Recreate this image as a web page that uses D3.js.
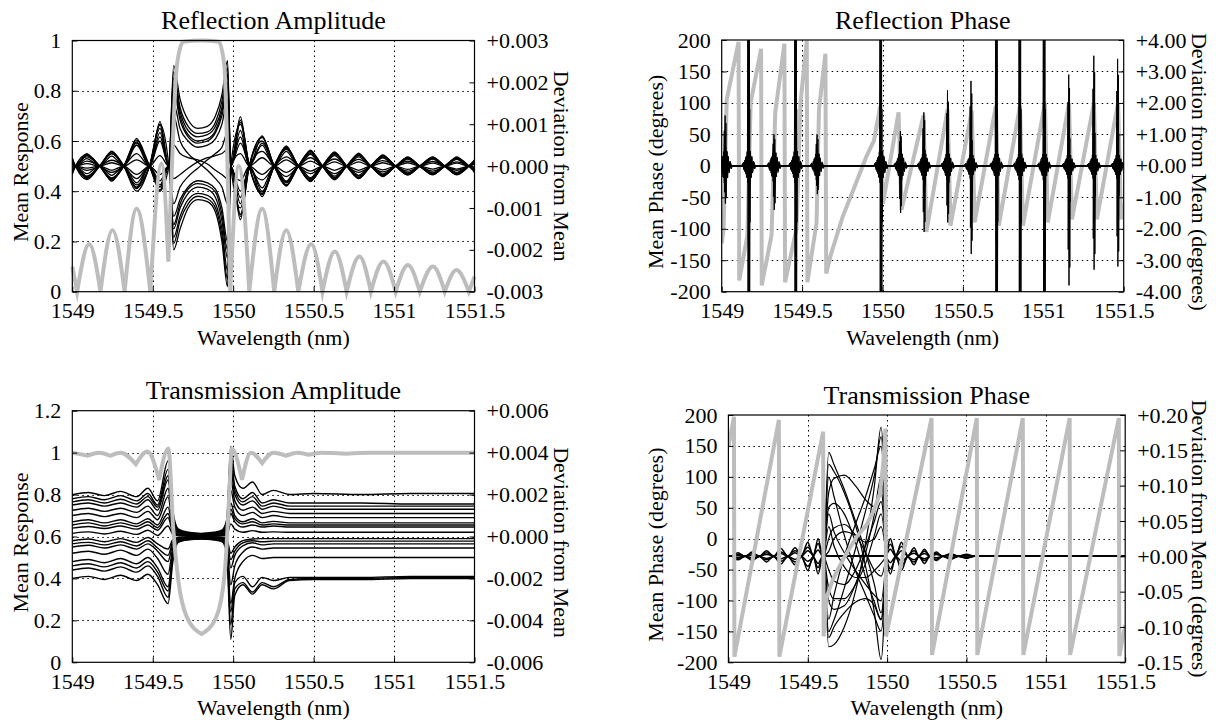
<!DOCTYPE html>
<html><head><meta charset="utf-8">
<script src="https://cdn.jsdelivr.net/npm/d3@7"></script>
<style>
body{margin:0;background:#fff;}
svg text{font-family:"Liberation Serif","Times New Roman",serif;fill:#000;}
</style></head><body>
<svg id="c" width="1216" height="725"></svg>
<script>
// ---------------- shared tick data ----------------
const X_TICKS = [1549, 1549.5, 1550, 1550.5, 1551, 1551.5];
const RA_LEFT_TICKS = [0, 0.2, 0.4, 0.6, 0.8, 1];
const RA_RIGHT_TICKS = [-0.003, -0.002, -0.001, 0, 0.001, 0.002, 0.003];
const RP_LEFT_TICKS = [-200, -150, -100, -50, 0, 50, 100, 150, 200];
const RP_RIGHT_TICKS = [-4, -3, -2, -1, 0, 1, 2, 3, 4];
const TA_LEFT_TICKS = [0, 0.2, 0.4, 0.6, 0.8, 1, 1.2];
const TA_RIGHT_TICKS = [-0.006, -0.004, -0.002, 0, 0.002, 0.004, 0.006];
const TP_LEFT_TICKS = [-200, -150, -100, -50, 0, 50, 100, 150, 200];
const TP_RIGHT_TICKS = [-0.15, -0.10, -0.05, 0, 0.05, 0.10, 0.15, 0.20];

// ---------------- Reflection amplitude ----------------
const RA_MEAN_X = [1549.000,1549.03,1549.105,1549.175,1549.25,1549.325,1549.40,1549.485,1549.555,1549.597,1549.625,1549.65,1549.69,1549.80,1549.91,1549.945,1549.965,1549.982,1550.035,1550.10,1550.18,1550.255,1550.33,1550.405,1550.485,1550.555,1550.632,1550.705,1550.785,1550.856,1550.934,1551.01,1551.086,1551.16,1551.242,1551.315,1551.388,1551.465,1551.5];
const RA_MEAN_Y = [0.10,0.0,0.19,0.0,0.245,0.0,0.33,0.0,0.51,0.12,0.6,0.9,0.995,1.0,0.995,0.9,0.5,0.0,0.50,0.0,0.33,0.0,0.245,0.0,0.19,0.0,0.16,0.0,0.14,0.0,0.12,0.0,0.106,0.0,0.10,0.0,0.086,0.0,0.06];
// deviation traces (units of 1e-3)
const RA_DEV_X = [1549.00,1549.02,1549.09,1549.17,1549.245,1549.32,1549.40,1549.48,1549.545,1549.60,1549.63,1549.67,1549.72,1549.78,1549.84,1549.89,1549.93,1549.965,1549.985,1550.045,1550.10,1550.18,1550.255,1550.33,1550.405,1550.48,1550.555,1550.63,1550.705,1550.78,1550.855,1550.93,1551.01,1551.085,1551.16,1551.24,1551.315,1551.39,1551.465,1551.5];
const RA_DEV_A = [0.2,0,0.3,0,0.36,0,0.66,0,1.06,0,2.4,1.6,1.1,0.9,0.95,1.2,1.7,2.52,0,1.18,0,0.72,0,0.48,0,0.38,0,0.34,0,0.31,0,0.27,0,0.22,0,0.22,0,0.22,0,0.15];
const RA_DEV_B = [-0.2,0,-0.3,0,-0.36,0,-0.54,0,-0.61,0,-2.0,-1.5,-1.0,-0.8,-0.85,-1.1,-1.8,-2.88,0,-1.28,0,-0.73,0,-0.48,0,-0.37,0,-0.33,0,-0.3,0,-0.25,0,-0.21,0,-0.21,0,-0.21,0,-0.15];
const RA_DEV_C = [0.15,0,-0.25,0,0.3,0,-0.45,0,0.9,0,2.1,1.3,0.85,0.7,0.75,0.95,1.4,2.2,0,-1.0,0,0.6,0,-0.4,0,0.32,0,-0.28,0,0.26,0,-0.22,0,0.19,0,-0.19,0,0.18,0,-0.12];
const RA_DEV_D = [-0.12,0,0.22,0,-0.28,0,0.55,0,-0.5,0,-1.7,-1.2,-0.8,-0.65,-0.7,-0.9,-1.5,-2.5,0,1.0,0,-0.62,0,0.42,0,-0.33,0,0.3,0,-0.27,0,0.23,0,-0.2,0,0.2,0,-0.19,0,0.12];
const RA_DEV_E = [0.1,0,0.18,0,0.24,0,0.5,0,0.8,0,1.8,1.1,0.7,0.55,0.6,0.8,1.2,1.9,0,0.85,0,0.5,0,0.35,0,0.28,0,0.25,0,0.22,0,0.2,0,0.17,0,0.17,0,0.16,0,0.1];
const RA_DEV_F = [-0.1,0,-0.18,0,-0.22,0,-0.4,0,-0.5,0,-1.5,-1.0,-0.65,-0.5,-0.55,-0.75,-1.3,-2.2,0,-0.9,0,-0.52,0,-0.36,0,-0.28,0,-0.24,0,-0.22,0,-0.19,0,-0.16,0,-0.16,0,-0.15,0,-0.1];
const RA_DEV_G = [0.05,0,0.12,0,-0.15,0,0.3,0,0.6,0,1.2,0.6,0.3,0.1,-0.1,-0.3,-0.5,-0.9,0,-0.6,0,0.35,0,-0.25,0,0.2,0,-0.18,0,0.16,0,-0.14,0,0.12,0,-0.12,0,0.1,0,-0.06];
const RA_DEV_H = [-0.06,0,-0.1,0,0.14,0,-0.3,0,-0.35,0,-0.9,-0.5,-0.25,-0.05,0.15,0.3,0.45,0.8,0,0.55,0,-0.33,0,0.22,0,-0.18,0,0.17,0,-0.15,0,0.13,0,-0.12,0,0.11,0,-0.1,0,0.06];
const RA_DEV_I = [0.18,0,-0.32,0,0.34,0,-0.6,0,0.98,0,2.25,1.4,0.95,0.78,0.82,1.05,1.55,2.35,0,1.1,0,-0.68,0,0.45,0,-0.36,0,0.32,0,-0.29,0,0.25,0,-0.21,0,0.21,0,-0.2,0,0.14];
const RA_DEV_J = [-0.18,0,0.28,0,-0.33,0,0.5,0,-0.58,0,-1.85,-1.3,-0.9,-0.72,-0.78,-1.0,-1.65,-2.7,0,-1.2,0,0.7,0,-0.46,0,0.35,0,-0.31,0,0.28,0,-0.24,0,0.2,0,-0.2,0,0.2,0,-0.14];
const RA_DEV_K = [0.03,0,0.06,0,0.08,0,0.15,0,0.25,0,0.5,0.3,0.2,0.15,0.05,-0.1,-0.2,-0.3,0,0.3,0,0.2,0,0.15,0,0.12,0,0.1,0,0.1,0,0.08,0,0.08,0,0.07,0,0.07,0,0.05];
const RA_DEV_L = [-0.03,0,-0.05,0,-0.1,0,-0.2,0,-0.2,0,-0.3,-0.2,-0.05,0.1,0.2,0.25,0.3,0.4,0,-0.35,0,-0.2,0,-0.15,0,-0.12,0,-0.1,0,-0.1,0,-0.09,0,-0.08,0,-0.07,0,-0.07,0,-0.05];
const RA_DEV_M = [0.12,0,0.25,0,-0.3,0,0.58,0,0.7,0,1.5,0.9,0.6,0.45,0.5,0.65,1.0,1.6,0,0.7,0,0.55,0,-0.38,0,0.3,0,0.28,0,-0.24,0,0.21,0,0.18,0,-0.18,0,0.17,0,0.1];
const RA_DEV_N = [-0.14,0,-0.24,0,0.3,0,-0.5,0,-0.45,0,-1.2,-0.8,-0.5,-0.35,-0.4,-0.55,-1.0,-1.8,0,-0.75,0,-0.6,0,0.4,0,-0.3,0,-0.27,0,0.25,0,-0.21,0,-0.18,0,0.18,0,-0.17,0,-0.1];
const RA_DEV_O = [0.17,0,0.27,0,-0.33,0,0.62,0,-0.58,0,1.95,1.2,0.75,0.6,0.65,0.85,1.3,2.0,0,1.05,0,-0.66,0,0.44,0,-0.35,0,0.31,0,-0.28,0,0.24,0,-0.2,0,0.2,0,-0.2,0,0.13];
const RA_DEV_P = [-0.16,0,-0.28,0,0.34,0,-0.52,0,1.0,0,-1.4,-0.9,-0.55,-0.42,-0.47,-0.62,-1.15,-2.0,0,-1.15,0,0.68,0,-0.45,0,0.36,0,-0.31,0,0.28,0,-0.23,0,0.2,0,-0.2,0,0.19,0,-0.12];

// ---------------- Reflection phase ----------------
const RP_MEAN_X = [1549.000,1549.012,1549.031,1549.105,1549.109,1549.16,1549.18,1549.245,1549.249,1549.31,1549.333,1549.390,1549.394,1549.465,1549.49,1549.529,1549.533,1549.59,1549.605,1549.645,1549.65,1549.68,1549.752,1549.825,1549.90,1549.947,1549.975,1549.985,1550.003,1550.10,1550.118,1550.255,1550.273,1550.405,1550.423,1550.555,1550.573,1550.705,1550.723,1550.855,1550.873,1551.01,1551.028,1551.16,1551.178,1551.315,1551.333,1551.465,1551.483,1551.5];
const RP_MEAN_Y = [-123,-100,105,197,-182,-110,100,186,-190,-110,85,194,-185,-100,100,199,-185,-90,90,178,-171,-140,-81,-34,15,40,80,95,-60,85,-70,80,-105,90,-95,88,-90,95,-95,95,-95,100,-90,100,-85,100,-85,100,-85,-60];
// deviation resonances (degrees)
const RP_SPIKE_X = [1549.022,1549.168,1549.326,1549.46,1549.594,1549.99,1550.112,1550.258,1550.405,1550.551,1550.709,1550.855,1551.006,1551.159,1551.315,1551.463];
const RP_SPIKE_UP = [1.6,6,1.0,6,1.0,6,1.1,1.7,2.4,2.7,6,6,6,2.9,3.5,3.4];
const RP_SPIKE_DOWN = [-1.2,-6,-1.4,-6,-0.9,-6,-1.5,-2.1,-1.8,-2.8,-6,-6,-6,-3.8,-3.3,-3.2];
const RP_BURST = [0.6,0.6,0.55,0.6,0.5,0.6,0.5,0.5,0.5,0.45,0.5,0.5,0.5,0.45,0.45,0.45];
const RP_PROFILE_DX = [-0.04,-0.032,-0.025,-0.019,-0.014,-0.01,-0.006,-0.003,-0.0008,0.0008,0.003,0.006,0.01,0.014,0.019,0.025,0.032,0.04];
const RP_PROFILE_BURST = [0,0.2,-0.3,0.45,-0.6,0.75,-0.9,1,0,0,1,-0.9,0.75,-0.6,0.45,-0.3,0.2,0];
const RP_PROFILE_UP = [0,0,0,0,0,0,0,0,1,0,0,0,0,0,0,0,0,0];
const RP_PROFILE_DOWN = [0,0,0,0,0,0,0,0,0,1,0,0,0,0,0,0,0,0];
const RP_TRACE_SPIKE = [1,0.85,0.7,0.55,0.4,0.3,0.2,0.1];
const RP_TRACE_BURST = [1,-0.85,0.7,-0.55,0.4,-0.3,0.2,-0.1];
const RP_TRACE_SHIFT = [0,0.005,-0.005,0.0025,-0.0025,0.007,-0.0015,0.0015];

// ---------------- Transmission amplitude ----------------
const TA_MEAN_X = [1549.0,1549.095,1549.166,1549.236,1549.30,1549.395,1549.467,1549.54,1549.597,1549.628,1549.659,1549.711,1549.804,1549.897,1549.949,1549.98,1549.99,1550.055,1550.11,1550.18,1550.25,1550.33,1550.4,1550.47,1550.55,1550.7,1550.85,1551.0,1551.5];
const TA_MEAN_Y = [1.0,0.985,1.0,0.985,1.0,0.945,1.005,0.87,1.02,0.63,0.39,0.217,0.135,0.22,0.44,0.87,1.02,0.87,1.0,0.95,1.0,0.985,1.0,0.99,1.0,0.995,1.0,1.0,1.0];
// deviation traces (units of 1e-3)
const TA_DEV_X = [1549.0,1549.1,1549.2,1549.3,1549.4,1549.47,1549.53,1549.595,1549.625,1549.66,1549.72,1549.8,1549.88,1549.93,1549.96,1549.985,1550.01,1550.06,1550.12,1550.18,1550.25,1550.35,1550.5,1550.8,1551.1,1551.5];
const TA_DEV_01 = [2.0,2.1,1.95,2.15,1.9,2.3,1.7,3.6,1.2,0.35,0.2,0.15,0.2,0.3,0.8,4.3,2.9,2.3,2.6,2.0,2.2,2.0,2.05,2.0,2.05,2.05];
const TA_DEV_02 = [1.8,1.9,1.75,1.95,1.7,2.05,1.5,3.2,1.0,0.3,0.18,0.13,0.18,0.26,0.7,3.8,2.4,1.8,2.1,1.6,1.75,1.6,1.6,1.6,1.55,1.55];
const TA_DEV_03 = [1.5,1.6,1.45,1.6,1.4,1.75,1.25,2.7,0.8,0.25,0.15,0.11,0.15,0.22,0.55,3.2,2.0,1.5,1.7,1.3,1.45,1.3,1.3,1.3,1.3,1.3];
const TA_DEV_04 = [1.25,1.35,1.2,1.35,1.15,1.45,1.0,2.3,0.65,0.2,0.12,0.09,0.12,0.18,0.45,2.7,1.7,1.25,1.4,1.1,1.2,1.1,1.1,1.1,1.1,1.1];
const TA_DEV_05 = [1.0,1.1,0.95,1.1,0.9,1.2,0.8,1.9,0.5,0.16,0.1,0.07,0.1,0.14,0.35,2.2,1.4,1.0,1.15,0.9,1.0,0.9,0.9,0.9,0.9,0.9];
const TA_DEV_06 = [0.7,0.8,0.65,0.8,0.6,0.85,0.55,1.4,0.35,0.11,0.07,0.05,0.07,0.1,0.25,1.6,1.0,0.7,0.85,0.65,0.72,0.65,0.65,0.65,0.65,0.65];
const TA_DEV_07 = [0.4,0.48,0.38,0.5,0.35,0.55,0.3,0.9,0.2,0.07,0.04,0.03,0.04,0.06,0.15,1.1,0.7,0.45,0.55,0.45,0.5,0.45,0.45,0.45,0.45,0.45];
const TA_DEV_08 = [0.15,0.22,0.12,0.25,0.1,0.3,0.05,0.5,0.1,0.03,0.02,0.01,0.02,0.03,0.05,0.6,0.35,0.2,0.28,0.2,0.22,0.2,0.2,0.2,0.2,0.2];
const TA_DEV_09 = [-0.2,-0.12,-0.25,-0.1,-0.28,-0.05,-0.35,-0.6,-0.15,-0.04,-0.02,-0.02,-0.02,-0.04,-0.1,-0.8,-0.5,-0.2,-0.12,-0.1,-0.1,-0.1,-0.1,-0.1,-0.1,-0.1];
const TA_DEV_10 = [-0.5,-0.42,-0.55,-0.4,-0.6,-0.35,-0.7,-1.2,-0.35,-0.09,-0.05,-0.04,-0.05,-0.08,-0.2,-1.5,-0.9,-0.45,-0.3,-0.4,-0.35,-0.35,-0.35,-0.35,-0.35,-0.35];
const TA_DEV_11 = [-0.8,-0.7,-0.85,-0.65,-0.9,-0.6,-1.05,-1.8,-0.55,-0.13,-0.08,-0.06,-0.08,-0.12,-0.35,-2.3,-1.4,-0.75,-0.5,-0.6,-0.55,-0.55,-0.55,-0.55,-0.55,-0.55];
const TA_DEV_12 = [-1.2,-1.1,-1.25,-1.05,-1.3,-1.0,-1.5,-2.4,-0.8,-0.18,-0.11,-0.08,-0.11,-0.16,-0.5,-3.2,-2.0,-1.2,-0.9,-1.05,-1.0,-1.0,-1.0,-1.0,-1.0,-1.0];
const TA_DEV_13 = [-1.6,-1.5,-1.65,-1.45,-1.7,-1.4,-1.9,-2.9,-1.0,-0.23,-0.14,-0.1,-0.14,-0.2,-0.7,-4.2,-2.5,-2.2,-2.65,-2.2,-2.4,-2.05,-2.0,-2.0,-1.95,-1.95];
const TA_DEV_14 = [-2.0,-1.9,-2.05,-1.85,-2.1,-1.8,-2.3,-3.2,-1.2,-0.27,-0.16,-0.12,-0.16,-0.24,-0.8,-4.9,-2.8,-2.3,-2.75,-2.3,-2.5,-2.1,-2.05,-2.05,-2.0,-2.0];
const TA_DEV_15 = [1.65,1.75,1.6,1.78,1.55,1.9,1.4,2.9,0.9,0.28,0.17,0.12,0.17,0.24,0.6,3.5,2.2,1.65,1.9,1.45,1.6,1.45,1.45,1.45,1.45,1.45];
const TA_DEV_16 = [0.55,0.65,0.5,0.65,0.48,0.7,0.42,1.1,0.28,0.09,0.06,0.04,0.06,0.08,0.2,1.3,0.85,0.6,0.7,0.55,0.6,0.55,0.55,0.55,0.55,0.55];
const TA_DEV_17 = [-0.35,-0.28,-0.4,-0.25,-0.45,-0.2,-0.55,-0.9,-0.25,-0.06,-0.04,-0.03,-0.04,-0.05,-0.15,-1.1,-0.7,-0.3,-0.2,-0.25,-0.22,-0.22,-0.22,-0.22,-0.22,-0.22];
const TA_DEV_18 = [-1.4,-1.3,-1.45,-1.25,-1.5,-1.2,-1.7,-2.6,-0.9,-0.25,-0.15,-0.11,-0.15,-0.22,-0.6,-3.6,-2.2,-1.9,-2.4,-1.95,-2.1,-1.95,-1.95,-1.95,-1.9,-1.9];

// ---------------- Transmission phase ----------------
const TP_MEAN_X = [1549.0,1549.035,1549.038,1549.318,1549.321,1549.597,1549.600,1549.62,1549.66,1549.73,1549.808,1549.87,1549.917,1549.955,1549.975,1549.99,1549.993,1550.28,1550.283,1550.565,1550.568,1550.855,1550.858,1551.15,1551.153,1551.46,1551.463,1551.5];
const TP_MEAN_Y = [149,197,-191,192,-191,173,-158,-94,-65,-30,3,22,46,73,120,178,-158,195,-188,195,-188,195,-188,195,-188,195,-190,-140];
// deviation bursts outside the band (units of 1e-2)
const TP_BURST_X = [1549.0,1549.02,1549.06,1549.105,1549.15,1549.195,1549.24,1549.285,1549.33,1549.375,1549.42,1549.46,1549.5,1549.535,1549.565,1549.595,1549.985,1550.02,1550.055,1550.09,1550.13,1550.17,1550.2,1550.235,1550.27,1550.31,1550.35,1550.4,1550.45,1550.5,1550.55,1551.0,1551.5];
const TP_BURST_1 = [0,0,0.5,0,0.6,0,0.8,0,1.1,0,1.2,0,2.0,0,2.5,0,0,2.5,0,2.0,0,1.2,0,1.0,0,0.6,0,0.4,0,0.3,0,0,0];
const TP_BURST_2 = [0,0,-0.5,0,-0.6,0,-0.8,0,-1.1,0,-1.2,0,-2.0,0,-2.5,0,0,-2.5,0,-2.0,0,-1.2,0,-1.0,0,-0.6,0,-0.4,0,-0.3,0,0,0];
const TP_BURST_3 = [0,0,0.3,0,-0.4,0,0.5,0,-0.7,0,0.8,0,-1.4,0,1.8,0,0,-1.8,0,1.4,0,-0.8,0,0.7,0,-0.4,0,0.3,0,-0.2,0,0,0];
const TP_BURST_4 = [0,0,-0.3,0,0.35,0,-0.5,0,0.6,0,-0.8,0,1.3,0,-1.6,0,0,1.7,0,-1.3,0,0.8,0,-0.6,0,0.4,0,-0.25,0,0.2,0,0,0];
const TP_BURST_5 = [0,0,0.15,0,0.2,0,-0.3,0,0.4,0,0.5,0,0.8,0,-1.0,0,0,1.0,0,0.8,0,-0.5,0,0.4,0,0.25,0,-0.15,0,0.1,0,0,0];
const TP_BURST_6 = [0,0,-0.15,0,-0.2,0,0.25,0,-0.35,0,-0.45,0,-0.7,0,0.9,0,0,-0.9,0,-0.7,0,0.45,0,-0.35,0,-0.2,0,0.15,0,-0.1,0,0,0];
// deviation traces inside the band (units of 1e-2)
const TP_BAND_X = [1549.605,1549.632,1549.665,1549.73,1549.8,1549.865,1549.92,1549.962,1549.995];
const TP_BAND_01 = [0,14.7,13.0,9.5,5.0,0.5,-4.0,-8.0,0];
const TP_BAND_02 = [0,13.0,12.0,9.0,4.5,-1.5,-8.0,-14.6,0];
const TP_BAND_03 = [0,11.2,8.5,3.0,-2.0,-5.5,-8.5,-10.6,0];
const TP_BAND_04 = [0,6.9,7.5,6.0,2.0,-3.0,-6.5,-8.9,0];
const TP_BAND_05 = [0,6.0,3.5,0.5,-2.0,-4.0,-5.5,-6.3,0];
const TP_BAND_06 = [0,2.5,4.0,4.5,3.0,0.5,-2.0,-2.8,0];
const TP_BAND_07 = [0,-1.9,-3.5,-4.0,-2.0,1.5,5.0,7.75,0];
const TP_BAND_08 = [0,-6.3,-7.5,-7.0,-4.0,0.5,6.0,11.2,0];
const TP_BAND_09 = [0,-10.6,-9.0,-4.5,1.0,6.5,11.5,16.9,0];
const TP_BAND_10 = [0,-12.8,-12.5,-10.0,-5.0,2.0,10.0,18.3,0];
const TP_BAND_11 = [0,-8.9,-5.5,0.0,4.5,8.5,12.5,15.6,0];
const TP_BAND_12 = [0,-4.5,-6.0,-6.0,-4.0,-1.0,3.0,6.0,0];
const TP_BAND_13 = [0,4.2,1.5,-1.5,-3.0,-3.0,-2.0,-1.0,0];
const TP_BAND_14 = [0,0.7,2.5,3.5,3.0,2.0,2.5,4.2,0];
const TP_BAND_15 = [0,-11.5,-10.0,-8.0,-6.5,-6.0,-7.0,-9.0,0];
const TP_BAND_16 = [0,9.0,11.0,11.5,10.0,8.0,7.0,9.0,0];

// ---------------- drawing ----------------
const svg = d3.select("#c");
const GRAY = "#bdbdbd";
const FONT = "'Liberation Serif','Times New Roman',serif";
const plain = d => String(d);
const signed = n => d => (d < 0 ? "-" : "+") + Math.abs(d).toFixed(n);

function cuspPath(xs, ys, sx, sy) {
  const pts = xs.map((v, i) => [sx(v), sy(ys[i])]);
  const segs = []; let cur = [pts[0]];
  for (let i = 1; i < pts.length; i++) {
    cur.push(pts[i]);
    if (i < pts.length - 1 && ys[i] < ys[i - 1] && ys[i] < ys[i + 1]) { segs.push(cur); cur = [pts[i]]; }
  }
  if (cur.length > 1) segs.push(cur);
  const line = d3.line().curve(d3.curveMonotoneX);
  return segs.map((s, k) => { const d = line(s); return k === 0 ? d : d.replace(/^M[^A-Za-z]*/, ""); }).join("");
}

let clipN = 0;
function panel(cfg) {
  const g = svg.append("g");
  const x = d3.scaleLinear().domain([1549, 1551.5]).range([cfg.left, cfg.right]);
  const yL = d3.scaleLinear().domain([cfg.lTicks[0], cfg.lTicks[cfg.lTicks.length - 1]]).range([cfg.bottom, cfg.top]);
  const yR = d3.scaleLinear().domain([cfg.rTicks[0], cfg.rTicks[cfg.rTicks.length - 1]]).range([cfg.bottom, cfg.top]);
  const id = "clip" + (clipN++);
  g.append("clipPath").attr("id", id).append("rect")
    .attr("x", cfg.left).attr("y", cfg.top).attr("width", cfg.right - cfg.left).attr("height", cfg.bottom - cfg.top);
  const grid = g.append("g").attr("stroke", "#000").attr("stroke-width", 1).attr("stroke-dasharray", "1.5,3.5");
  grid.selectAll(".h").data(cfg.lTicks.slice(1, -1)).join("line")
    .attr("x1", cfg.left).attr("x2", cfg.right).attr("y1", d => Math.round(yL(d)) + 0.5).attr("y2", d => Math.round(yL(d)) + 0.5);
  grid.selectAll(".v").data(X_TICKS.slice(1, -1)).join("line")
    .attr("y1", cfg.top).attr("y2", cfg.bottom).attr("x1", d => Math.round(x(d)) + 0.5).attr("x2", d => Math.round(x(d)) + 0.5);
  cfg.draw(g, x, yL, yR, "url(#" + id + ")");
  g.append("rect").attr("x", cfg.left).attr("y", cfg.top).attr("width", cfg.right - cfg.left).attr("height", cfg.bottom - cfg.top)
    .attr("fill", "none").attr("stroke", "#000").attr("stroke-width", 1.2);
  const style = a => { a.select(".domain").remove(); a.attr("font-family", FONT).attr("font-size", 22); a.selectAll("text").attr("fill", "#000"); };
  g.append("g").attr("transform", `translate(${cfg.left},0)`)
    .call(d3.axisLeft(yL).tickValues(cfg.lTicks).tickFormat(cfg.lFmt).tickSize(-5).tickPadding(11)).call(style);
  g.append("g").attr("transform", `translate(${cfg.right},0)`)
    .call(d3.axisRight(yR).tickValues(cfg.rTicks).tickFormat(cfg.rFmt).tickSize(-5).tickPadding(12)).call(style);
  g.append("g").attr("transform", `translate(0,${cfg.bottom})`)
    .call(d3.axisBottom(x).tickValues(X_TICKS).tickFormat(plain).tickSize(-5).tickPadding(11)).call(style);
  const cx = (cfg.left + cfg.right) / 2, cy = (cfg.top + cfg.bottom) / 2;
  g.append("text").attr("x", cx).attr("y", cfg.titleY).attr("text-anchor", "middle").attr("font-size", 26).text(cfg.title);
  g.append("text").attr("x", cx).attr("y", cfg.bottom + 53).attr("text-anchor", "middle").attr("font-size", 22).text("Wavelength (nm)");
  g.append("text").attr("transform", `translate(${cfg.lLabelX},${cy + 6}) rotate(-90)`).attr("dy", "0.35em")
    .attr("text-anchor", "middle").attr("font-size", 22).text(cfg.lLabel);
  g.append("text").attr("transform", `translate(${cfg.rLabelX},${cy + cfg.rLabelDy}) rotate(90)`).attr("dy", "0.35em")
    .attr("text-anchor", "middle").attr("font-size", 22).text(cfg.rLabel);
}

function blackLines(g, clip, xs, rows, sx, sy, curve, w) {
  const line = d3.line().curve(curve).x((d, i) => sx(xs[i])).y(d => sy(d));
  g.append("g").attr("clip-path", clip).selectAll("path").data(rows).join("path")
    .attr("d", line).attr("fill", "none").attr("stroke", "#000").attr("stroke-width", w || 1.1);
}

// Panel 1
panel({
  title: "Reflection Amplitude", titleY: 29, left: 72.3, right: 474.5, top: 40.5, bottom: 291.7,
  lTicks: RA_LEFT_TICKS, rTicks: RA_RIGHT_TICKS, lFmt: plain, rFmt: signed(3),
  lLabel: "Mean Response", rLabel: "Deviation from Mean", lLabelX: 20, rLabelX: 562, rLabelDy: 0,
  draw(g, x, yL, yR, clip) {
    const rows = [RA_DEV_A, RA_DEV_B, RA_DEV_C, RA_DEV_D, RA_DEV_E, RA_DEV_F, RA_DEV_G, RA_DEV_H, RA_DEV_I, RA_DEV_J,
      RA_DEV_K, RA_DEV_L, RA_DEV_M, RA_DEV_N, RA_DEV_O, RA_DEV_P];
    blackLines(g, clip, RA_DEV_X, rows, x, v => yR(v * 1e-3), d3.curveMonotoneX, 1.3);
    g.append("path").attr("d", cuspPath(RA_MEAN_X, RA_MEAN_Y, x, yL)).attr("fill", "none")
      .attr("stroke", GRAY).attr("stroke-width", 4).attr("stroke-linejoin", "miter").attr("stroke-miterlimit", 6);
  }
});

// Panel 2
panel({
  title: "Reflection Phase", titleY: 29, left: 721.7, right: 1123.7, top: 40, bottom: 291.7,
  lTicks: RP_LEFT_TICKS, rTicks: RP_RIGHT_TICKS, lFmt: plain, rFmt: signed(2),
  lLabel: "Mean Phase (degrees)", rLabel: "Deviation from Mean (degrees)", lLabelX: 655, rLabelX: 1200, rLabelDy: 6,
  draw(g, x, yL, yR, clip) {
    g.append("path").attr("clip-path", clip)
      .attr("d", d3.line().x((d, i) => x(RP_MEAN_X[i])).y(d => yL(d))(RP_MEAN_Y))
      .attr("fill", "none").attr("stroke", GRAY).attr("stroke-width", 4).attr("stroke-linejoin", "miter");
    const traces = RP_TRACE_SPIKE.map((s, k) => {
      const pts = [];
      RP_SPIKE_X.forEach((sx0, i) => {
        RP_PROFILE_DX.forEach((dx, j) => {
          const v = RP_TRACE_BURST[k] * RP_BURST[i] * RP_PROFILE_BURST[j]
            + s * (RP_SPIKE_UP[i] * RP_PROFILE_UP[j] + RP_SPIKE_DOWN[i] * RP_PROFILE_DOWN[j]);
          pts.push([sx0 + dx + RP_TRACE_SHIFT[k], v]);
        });
      });
      return pts;
    });
    g.append("g").attr("clip-path", clip).selectAll("path").data(traces).join("path")
      .attr("d", d3.line().x(d => x(d[0])).y(d => yR(d[1])))
      .attr("fill", "none").attr("stroke", "#000").attr("stroke-width", 1);
  }
});

// Panel 3
panel({
  title: "Transmission Amplitude", titleY: 399, left: 72.3, right: 474.5, top: 410.7, bottom: 662.3,
  lTicks: TA_LEFT_TICKS, rTicks: TA_RIGHT_TICKS, lFmt: plain, rFmt: signed(3),
  lLabel: "Mean Response", rLabel: "Deviation from Mean", lLabelX: 20, rLabelX: 562, rLabelDy: 6,
  draw(g, x, yL, yR, clip) {
    const rows = [TA_DEV_01, TA_DEV_02, TA_DEV_03, TA_DEV_04, TA_DEV_05, TA_DEV_06, TA_DEV_07, TA_DEV_08, TA_DEV_09,
      TA_DEV_10, TA_DEV_11, TA_DEV_12, TA_DEV_13, TA_DEV_14, TA_DEV_15, TA_DEV_16, TA_DEV_17, TA_DEV_18];
    blackLines(g, clip, TA_DEV_X, rows, x, v => yR(v * 1e-3), d3.curveMonotoneX, 1.4);
    g.append("path").attr("d", cuspPath(TA_MEAN_X, TA_MEAN_Y, x, yL)).attr("fill", "none")
      .attr("stroke", GRAY).attr("stroke-width", 4).attr("stroke-linejoin", "miter");
  }
});

// Panel 4
panel({
  title: "Transmission Phase", titleY: 404, left: 728.4, right: 1125.2, top: 415, bottom: 662.3,
  lTicks: TP_LEFT_TICKS, rTicks: TP_RIGHT_TICKS, lFmt: plain, rFmt: signed(2),
  lLabel: "Mean Phase (degrees)", rLabel: "Deviation from Mean (degrees)", lLabelX: 655, rLabelX: 1200, rLabelDy: 0,
  draw(g, x, yL, yR, clip) {
    const bursts = [TP_BURST_1, TP_BURST_2, TP_BURST_3, TP_BURST_4, TP_BURST_5, TP_BURST_6];
    blackLines(g, clip, TP_BURST_X, bursts, x, v => yR(v * 1e-2), d3.curveMonotoneX, 1.5);
    const band = [TP_BAND_01, TP_BAND_02, TP_BAND_03, TP_BAND_04, TP_BAND_05, TP_BAND_06, TP_BAND_07, TP_BAND_08,
      TP_BAND_09, TP_BAND_10, TP_BAND_11, TP_BAND_12, TP_BAND_13, TP_BAND_14, TP_BAND_15, TP_BAND_16];
    blackLines(g, clip, TP_BAND_X, band, x, v => yR(v * 1e-2), d3.curveMonotoneX, 1.2);
    g.append("path").attr("clip-path", clip)
      .attr("d", d3.line().x((d, i) => x(TP_MEAN_X[i])).y(d => yL(d))(TP_MEAN_Y))
      .attr("fill", "none").attr("stroke", GRAY).attr("stroke-width", 4).attr("stroke-linejoin", "miter");
  }
});
</script></body></html>
